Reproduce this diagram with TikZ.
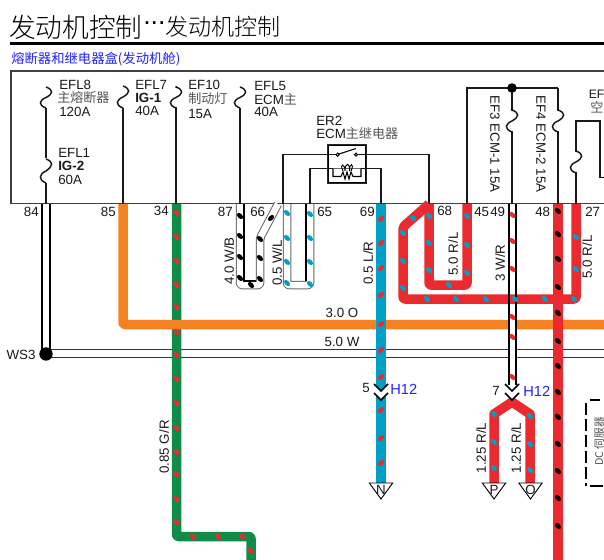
\documentclass[tikz,border=0pt]{standalone}
\usepackage{fontspec}
\setmainfont{Liberation Sans}
\newfontfamily\cjk{Noto Sans CJK SC}
\newfontfamily\cjkl{Noto Sans CJK SC Light}
\usetikzlibrary{calc}
\definecolor{wred}{HTML}{EA2A2E}
\definecolor{wblue}{HTML}{00A0C6}
\definecolor{wgreen}{HTML}{0F8C4A}
\definecolor{worange}{HTML}{F58220}
\definecolor{cblue}{HTML}{2222FF}
\definecolor{lgray}{HTML}{555555}
\tikzset{
  wire/.style={line width=.75*#1, line join=round, rounded corners=1.5},
  redw/.style={wire=9.5, draw=wred},
  bluew/.style={wire=10, draw=wblue},
  greenw/.style={wire=9.5, draw=wgreen},
  orangew/.style={wire=9.5, draw=worange},
  edgeg/.style={wire=8.5, draw=gray!80!black},
  inw/.style={wire=6.5, draw=white},
  thin line/.style={line width=1.1pt, draw=black!90},
  dotr/.style={fill=wred},
  dotb/.style={fill=wblue},
  dotk/.style={fill=black},
  lbl/.style={font=\fontsize{10}{11}\selectfont, inner sep=0pt, text=black!90},
  lblL/.style={lbl, anchor=west},
  rot/.style={lbl, rotate=90},
  cn/.style={font=\cjk\fontsize{9.8}{10}\selectfont, inner sep=0pt, text=lgray, anchor=west},
  pinl/.style={lbl},
  conn/.style={font=\fontsize{11}{12}\selectfont, inner sep=0pt, text=cblue},
}
\newcommand{\dotB}[3]{\path[#1,shift={(#2,#3)},rotate=-45] (0,0) ellipse (3.7 and 2.3);}
\newcommand{\dotF}[3]{\path[#1,shift={(#2,#3)},rotate=45] (0,0) ellipse (3.7 and 2.3);}
\newcommand{\fuseS}[3]{% x, y top, y bottom
  \draw[thin line] (#1,#2) .. controls ({#1+8},{#2+3}) and ({#1+7},{#2+7}) .. (#1,{(#2+#3)/2})
    .. controls ({#1-7},{(#2+#3)/2+3}) and ({#1-8},{#3-3}) .. (#1,#3);}
\newcommand{\chevron}[2]{% x, y top
  \fill[white] ({#1-7},#2) -- (#1,{#2+7}) -- ({#1+7},#2) -- ({#1+7},{#2+9}) -- (#1,{#2+16}) -- ({#1-7},{#2+9}) -- cycle;
  \draw[line width=1.2pt, draw=black] ({#1-7},#2) -- (#1,{#2+7}) -- ({#1+7},#2);
  \draw[line width=1.2pt, draw=black] ({#1-7},{#2+9}) -- (#1,{#2+16}) -- ({#1+7},{#2+9});}
\begin{document}
\begin{tikzpicture}[x=.75pt,y=-.75pt]
\useasboundingbox (0,0) rectangle (604,560);
\fill[white] (0,0) rectangle (604,560);
% title
\node[inner sep=0pt,anchor=west] (title1) at (9,27) {\cjkl\fontsize{20}{20}\selectfont 发动机控制};
\node[inner sep=0pt,anchor=west] (dots) at (143,23.5) {\fontsize{20}{20}\selectfont ...};
\node[inner sep=0pt,anchor=west] (title2) at (165,27) {\cjkl\fontsize{17.3}{18}\selectfont 发动机控制};
\fill[black] (10,42) rectangle (604,45);
\node[inner sep=0pt,anchor=west,text=cblue] (sub) at (11,59) {\cjk\fontsize{10}{10}\selectfont 熔断器和继电器盒(发动机舱)};
% box
\draw[line width=1pt, draw=black!75] (604,71) -- (11,71) -- (11,203.5) -- (604,203.5);
% coordinates
\coordinate (p84) at (46,204);
\coordinate (p85) at (123,204);
\coordinate (p34) at (176.5,204);
\coordinate (p87) at (240,204);
\coordinate (p66) at (278,204);
\coordinate (p65a) at (287,204);
\coordinate (p65) at (310,204);
\coordinate (p69) at (381,204);
\coordinate (p68) at (429,204);
\coordinate (p45) at (467,204);
\coordinate (p49) at (512.5,204);
\coordinate (p48) at (558,204);
\coordinate (p27) at (576,204);
\coordinate (ws3) at (46,354);
% inside box, fuses
\draw[thin line] (46,108) -- (46,158) (46,183) -- (p84);
\fuseS{46}{87}{108}\fuseS{46}{159}{183}
\draw[thin line] (123,108) -- (p85); \fuseS{123}{86}{108}
\draw[thin line] (176,108) -- (176,204); \fuseS{176}{87}{108}
\draw[thin line] (240,108) -- (p87); \fuseS{240}{87}{108}
\fill (176,87) circle (1) (176,108) circle (1);
% relay
\draw[thin line] (283,204) |- (338,154.7);
\draw[thin line] (356,154.7) -| (429,204);
\draw[thin line] (310,204) |- (381,168.7) -- (381,204);
\node[draw=black, line width=.9pt, fill=none, minimum size=28.5pt, inner sep=0pt] (er2) at (347,164) {};
\fill[white] (329,146) rectangle (365,182);
\draw[thin line] (328,154.7) -- (338,154.7) (356,154.7) -- (366,154.7);
\draw[thin line] (328,168.7) -- (366,168.7);
\draw[line width=.7pt,fill=white] (337.7,154.7) circle (1.6) (356,154.7) circle (1.6);
\draw[line width=.8pt] (339,154) -- (356,148.5);
\draw[line width=.8pt,fill=white] (333,168.7) -- (333,176.5) -- (341,176.5) -- (343,172) -- (345,179) -- (347,172) -- (349,179) -- (351,172) -- (353,176.5) -- (361,176.5) -- (361,168.7);
\draw[line width=.7pt] (343,171) .. controls (339,163) and (345,163) .. (345,171) .. controls (345,162) and (350,162) .. (349.5,171) .. controls (349,162) and (355,163) .. (351,171);
\draw[line width=1pt, draw=black!85] (er2.north west) rectangle (er2.south east);
% EF3 EF4
\draw[thin line] (467,204) |- (558,88);
\draw[thin line] (558,88) -- (558,110) (558,132) -- (558,204);
\draw[thin line] (512,88) -- (512,110) (512,132) -- (512,204);
\fuseS{512}{110}{132}\fuseS{558}{110}{132}
\fill (512,110) circle (1.1) (512,132) circle (1.1) (558,110) circle (1.1) (558,132) circle (1.1);
\node[circle,fill=black,minimum size=7.2pt,inner sep=0pt] (j1) at (512,88) {};
% right fuse
\draw[thin line] (576,204) -- (576,173) (576,151) |- (600,121) -- (600,177.3) -- (604,177.3);
\fuseS{576}{151}{173}
\fill (576,151) circle (1.1) (576,173) circle (1.1);
% fuse labels
\node[lblL] (a1) at (59,85) {EFL8};
\node[cn] (a2) at (57,97.5) {主熔断器};
\node[lblL] (a3) at (59,112) {120A};
\node[lblL] (b1) at (58,153) {EFL1};
\node[lblL,font=\fontsize{10}{11}\selectfont\bfseries] (b2) at (58,165.5) {IG-2};
\node[lblL] (b3) at (58,179.5) {60A};
\node[lblL] (c1) at (135,85) {EFL7};
\node[lblL,font=\fontsize{10}{11}\selectfont\bfseries] (c2) at (135,98) {IG-1};
\node[lblL] (c3) at (135,110.5) {40A};
\node[lblL] (d1) at (188,85) {EF10};
\node[cn] (d2) at (188,98.5) {制动灯};
\node[lblL] (d3) at (188,114) {15A};
\node[lblL] (e1) at (254,86) {EFL5};
\node[lblL] (e2) at (254,99) {ECM{\cjk\textcolor{lgray}{\fontsize{9.8}{10}\selectfont 主}}};
\node[lblL] (e3) at (254,112) {40A};
\node[lblL] (er1) at (316,120.5) {ER2};
\node[lblL] (er3) at (316,134) {ECM{\cjk\textcolor{lgray}{\fontsize{9.8}{10}\selectfont 主继电器}}};
\node[lbl,rotate=-90] (ef3) at (495,144) {EF3 ECM-1 15A};
\node[lbl,rotate=-90] (ef4) at (541,144) {EF4 ECM-2 15A};
\node[lblL,font=\fontsize{9.2}{10}\selectfont] (f1) at (588.5,94) {EF};
\node[cn,font=\cjk\fontsize{9.8}{10}\selectfont] (f2) at (590,107) {空};
% pin labels
\node[pinl,anchor=east] (l84) at (39,212) {84};
\node[pinl,anchor=east] (l85) at (116,212) {85};
\node[pinl,anchor=east] (l34) at (169,211) {34};
\node[pinl,anchor=east] (l87) at (233,212) {87};
\node[pinl,anchor=west] (l66) at (250,212) {66};
\node[pinl,anchor=west] (l65) at (317,212) {65};
\node[pinl,anchor=east] (l69) at (375,212) {69};
\node[pinl,anchor=west] (l68) at (437,211) {68};
\node[pinl,anchor=west] (l45) at (474,212) {45};
\node[pinl,anchor=west] (l49) at (490,212) {49};
\node[pinl,anchor=west] (l48) at (535,212) {48};
\node[pinl,anchor=west] (l27) at (585,212) {27};
% 5.0 W band and 84 double wire
\fill[white] (46,350) rectangle (604,357);
\draw[line width=.75pt, draw=black!80] (46,349.7) -- (604,349.7) (46,357.2) -- (604,357.2);
% green
\draw[greenw] (p34) -- (176.5,536.5) -- (251,536.5) -- (251,560);
% orange
\draw[orangew] (p85) |- (604,324.5);
% W wire 84
\draw[line width=1.6pt] (42.3,204) -- (42.3,354) (49.7,204) -- (49.7,354);
\node[circle,fill=black,minimum size=10pt,inner sep=0pt] (j2) at (ws3) {};
% W/B
\draw[edgeg] (p87) |- (260,285) -- (260,238) -- (p66);
\draw[inw] (p87) |- (260,285) -- (260,238) -- (p66);
\draw[line width=.9pt] (244,204) -- (244,281) -- (256,281);
% W/L
\draw[edgeg] (p65a) |- (310,285) -- (p65);
\draw[inw] (p65a) |- (310,285) -- (p65);
\draw[line width=.9pt] (306,204) -- (306,281);
% 3 W/R white interior
\fill[white] (509,204) rectangle (516,385);
% red
\draw[redw] (p68) -- (403,227) -- (403,299) -- (576,299) -- (p27);
\draw[redw] (p68) |- (467,285) -- (p45);
\draw[redw] (p48) -- (558,560);
\draw[line width=1.1pt] (509,204) -- (509,385) (516,204) -- (516,385);
% blue
\draw[bluew] (p69) -- (381,483);
% red branches
\draw[redw,rounded corners=0] (494,483) -- (494,414) -- (512,402) -- (530,414) -- (530,483);
% dots
\foreach \y in {213,237,261,285,307,332,355,379,403,428,452,474,499,522}{\dotB{dotr}{176.5}{\y}}
\foreach \x in {193,218,242}{\dotB{dotr}{\x}{536.5}}
\dotB{dotr}{251}{551}
\foreach \y in {219,243,268,295,324,350,377,410,438,463}{\dotF{dotr}{381}{\y}}
\foreach \y in {215,241,269,317,337,377}{\dotB{dotr}{512.5}{\y}}
\foreach \y in {216,236,257,278}{\dotB{dotk}{240}{\y}}
\foreach \y in {239,258,279}{\dotB{dotk}{260}{\y}}
\dotB{dotk}{251}{285}
\dotF{dotk}{271}{218}
\foreach \y in {213,238,262,283}{\dotB{dotb}{287}{\y}}
\foreach \y in {214,238,262,284}{\dotB{dotb}{310}{\y}}
\foreach \a/\b in {429/216,429/243,429/270,449/285,467/216,467/245,467/273,413/218,403/233,403/261,403/288,427/299,456/299,486/299,515/299,545/299,574/299,576/237,576/269,494/414,494/442,494/468,530/416,530/444,530/470}{\dotB{dotb}{\a}{\b}}
\foreach \y in {211,234,259,287,313,341,366,392,417,444,471,498,526}{\dotB{dotk}{558}{\y}}
% connectors
\chevron{381}{384}
\chevron{512}{384}
% terminals
\coordinate (tN) at (381,483);
\coordinate (tP) at (494,483);
\coordinate (tO) at (530.5,483);
\foreach \t/\s in {tN/N,tP/P,tO/O}{
  \draw[line width=.7pt, fill=white] (\t) ++(-11.7,0) -- ++(23.4,0) -- ++(-11.7,16) -- cycle;
  \node[lbl,anchor=center] (lab\s) at ($(\t)+(0,6.5)$) {\s};
}
% wire labels
\node[rot] (w1) at (229,261) {4.0 W/B};
\node[rot] (w2) at (277,263) {0.5 W/L};
\node[rot] (w3) at (368,263) {0.5 L/R};
\node[lbl] (w4) at (342,313) {3.0 O};
\node[lbl] (w5) at (342,342) {5.0 W};
\node[rot] (w6) at (164,447) {0.85 G/R};
\node[rot] (w7) at (453,254) {5.0 R/L};
\node[rot] (w8) at (500,263) {3 W/R};
\node[rot] (w9) at (587,257) {5.0 R/L};
\node[rot] (w10) at (481,448) {1.25 R/L};
\node[rot] (w11) at (516,448) {1.25 R/L};
\node[lbl] (ws) at (21,354.5) {WS3};
\node[lbl] (n5) at (366,388) {5};
\node[conn,anchor=west] (h1) at (390,389) {H12};
\node[lbl] (n7) at (496,391) {7};
\node[conn,anchor=west] (h2) at (523,391) {H12};
% dashed bracket
\draw[line width=1pt] (600,400) -- (590,400) (603,486) -- (590,486);
\draw[line width=1pt, dash pattern=on 9pt off 3pt] (586,403) -- (586,486);
\node[rotate=90,anchor=west,inner sep=0pt,text=lgray,font=\cjk\fontsize{8}{8}\selectfont] (dc) at (599,466) {DC 伺服器};
\end{tikzpicture}
\end{document}
